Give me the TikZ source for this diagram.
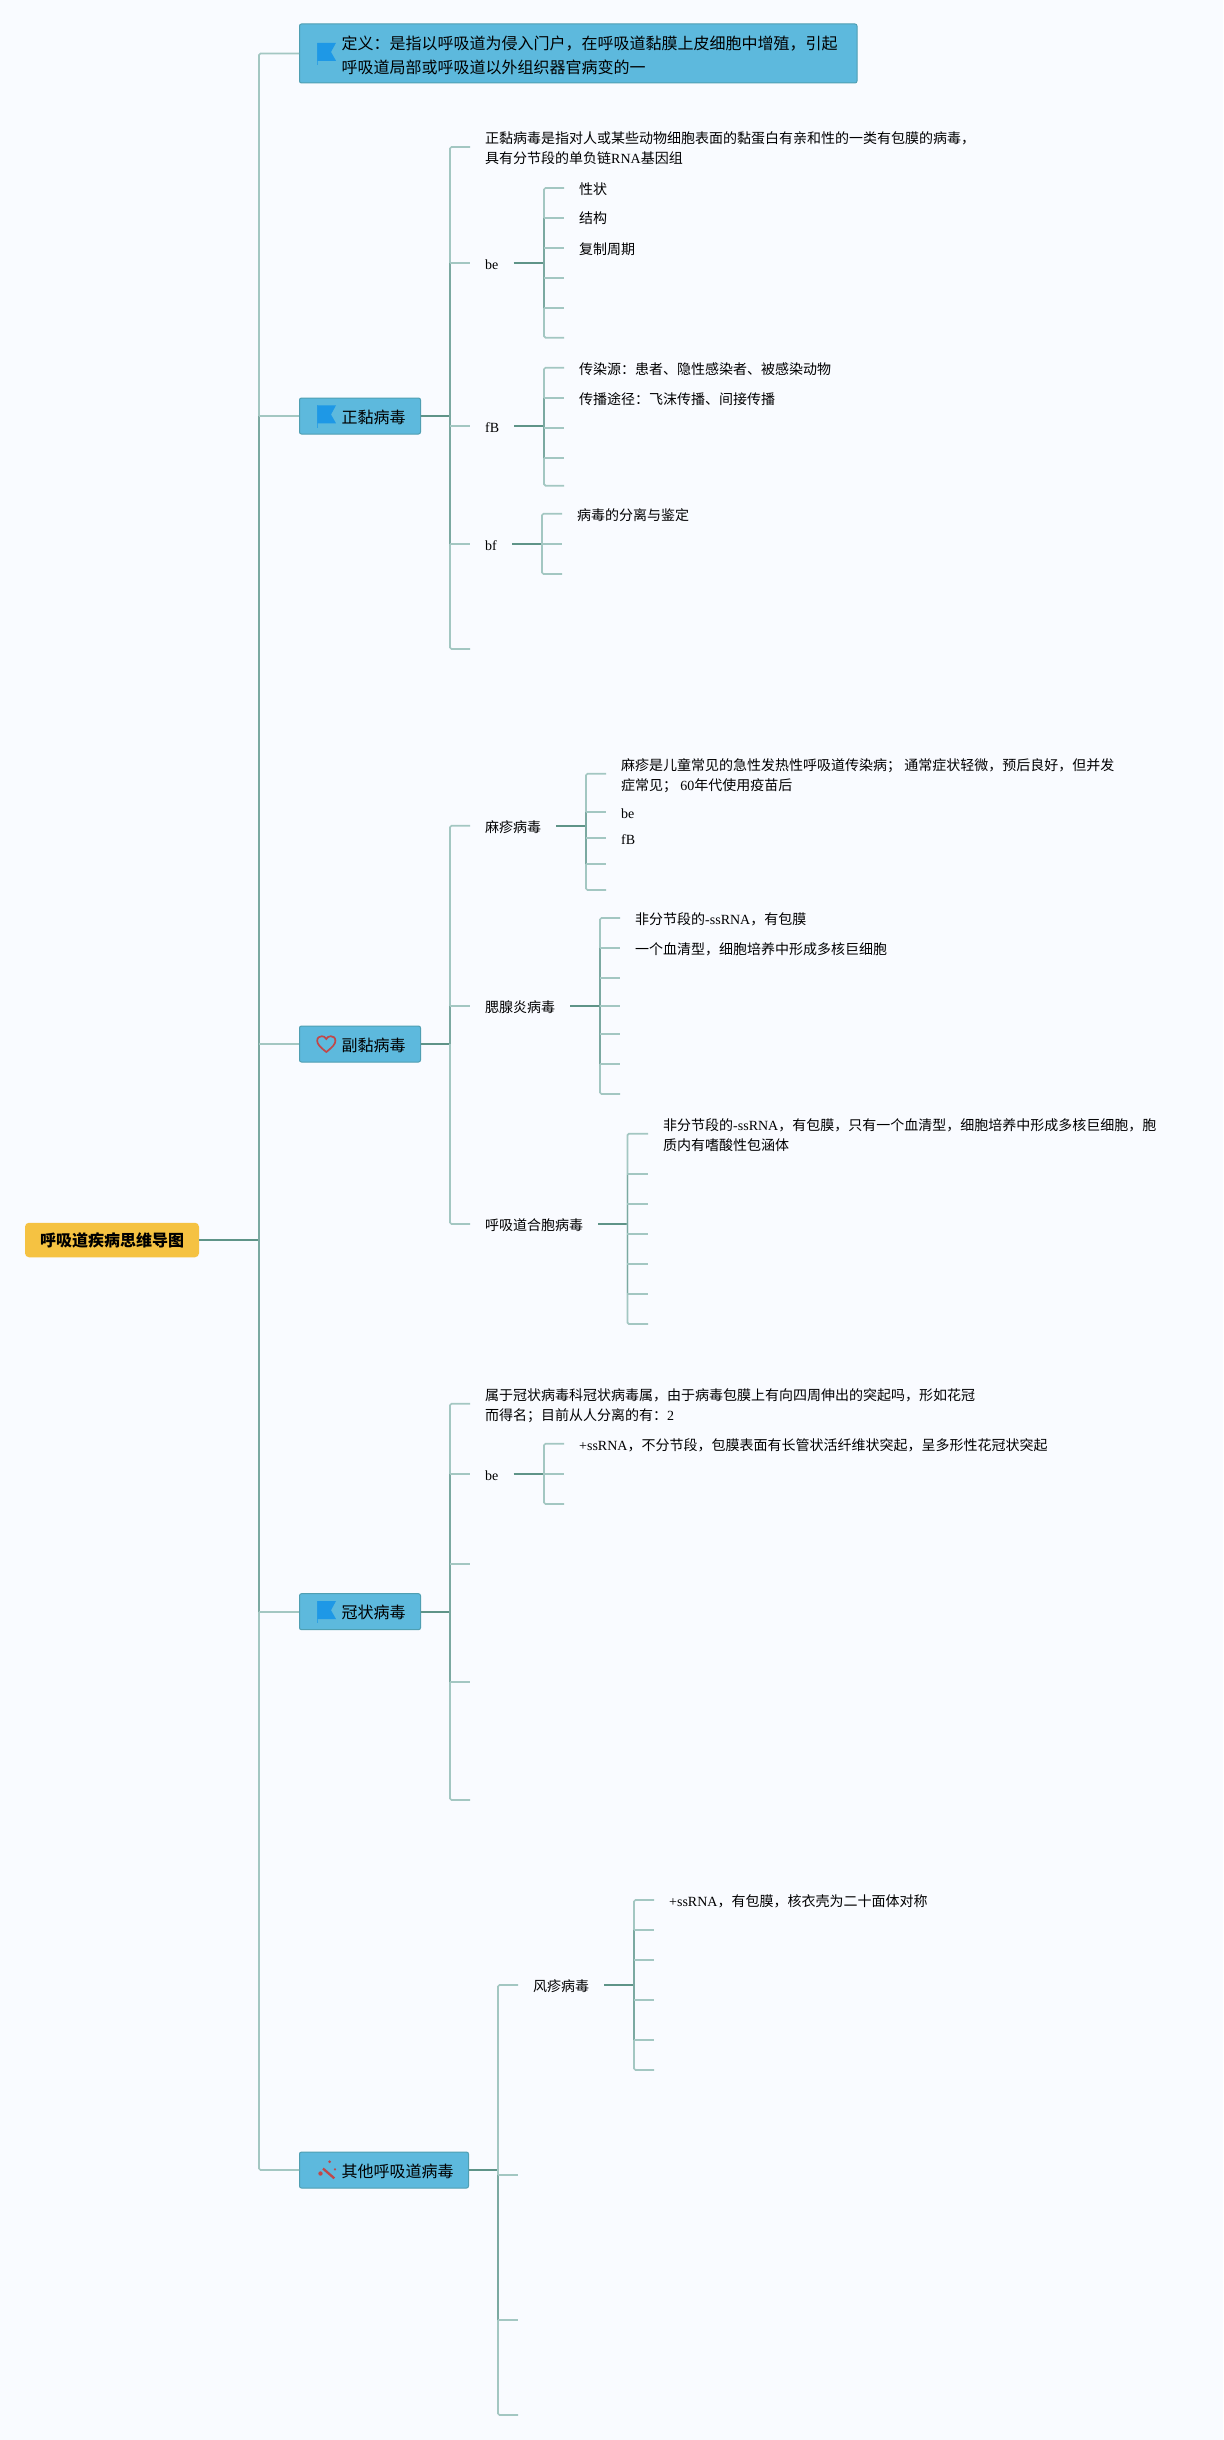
\documentclass[tikz,border=0pt]{standalone}
\usepackage{fontspec}
\setmainfont{Noto Sans CJK SC}
\newfontfamily\latinfont{Liberation Serif}
\usepackage{xcolor}
\usetikzlibrary{positioning}
\definecolor{pagebg}{HTML}{F9FBFF}
\definecolor{topicfill}{HTML}{5DB9DD}
\definecolor{topicedge}{HTML}{4F9FB2}
\definecolor{rootfill}{HTML}{F5C242}
\definecolor{twigcol}{HTML}{A3C7C2}
\definecolor{spinecol}{HTML}{7BA9A1}
\definecolor{stemcol}{HTML}{5F9488}
\definecolor{flagcol}{HTML}{1E98E6}
\definecolor{redcol}{HTML}{C0484A}
\newcommand{\lat}[1]{{\latinfont #1}}
\newcommand{\leafstrut}{\rule[-3.7pt]{0pt}{20pt}}
\newcommand{\leaftallstrut}{\rule[-3.7pt]{0pt}{40.7pt}}
\newcommand{\topicstrut}{\rule[-4pt]{0pt}{22pt}}
\newcommand{\flagicon}[1]{%
  \begin{scope}[shift={(#1.west)}]
    \fill[flagcol!70!topicfill] (18.3,-10.7) rectangle (19.3,11.7);
    \fill[flagcol] (18.3,-10.7) -- (37,-10.7) -- (32,-1.5) -- (37,7.3) -- (18.3,7.3) -- cycle;
  \end{scope}}

\begin{document}
\begin{tikzpicture}[x=1pt, y=-1pt,
    rootbox/.style={fill=rootfill, rounded corners=4pt, inner sep=0pt, minimum width=174pt, minimum height=34.5pt, font=\fontsize{16}{24}\selectfont\bfseries},
    topic/.style={draw=topicedge, fill=topicfill, rounded corners=2pt, anchor=west, inner sep=0pt, line width=1pt, minimum height=36pt},
    topictext/.style={inner sep=0pt, align=left, font=\fontsize{16}{24}\selectfont, execute at begin node=\topicstrut, execute at end node=\topicstrut},
    leaf/.style={anchor=west, inner xsep=15pt, inner ysep=0pt, align=left, font=\fontsize{14}{20}\selectfont, execute at begin node=\leafstrut, execute at end node=\leafstrut},
    leaftwo/.style={leaf, execute at begin node=\leaftallstrut},
    twig/.style={draw=twigcol, line width=1.7pt, rounded corners=1.5pt},
    spine/.style={draw=spinecol, line width=1.7pt},
    stem/.style={draw=stemcol, line width=2pt}]

    \fill[pagebg] (0,0) rectangle (1223,2440);

    % Root and the main trunk
    \node[rootbox] (root) at (112,1240) {呼吸道疾病思维导图};
    \coordinate (rootJ) at (259,1240);

    % Five topics
    \node[topic, minimum width=557.5pt, minimum height=59pt] (def) at (299,53.5) {};
    \node[topictext, right=42.5pt of def.west, yshift=-3.5pt] (deftxt) {定义：是指以呼吸道为侵入门户，在呼吸道黏膜上皮细胞中增殖，引起\\呼吸道局部或呼吸道以外组织器官病变的一};
    \node[topic, minimum width=121pt] (zheng) at (299,416) {};
    \node[topictext, right=42.5pt of zheng.west] (zhengtxt) {正黏病毒};
    \node[topic, minimum width=121pt] (fu) at (299,1044) {};
    \node[topictext, right=42.5pt of fu.west] (futxt) {副黏病毒};
    \node[topic, minimum width=121pt] (guan) at (299,1611.7) {};
    \node[topictext, right=42.5pt of guan.west] (guantxt) {冠状病毒};
    \node[topic, minimum width=169pt] (qita) at (299,2170) {};
    \node[topictext, right=42.5pt of qita.west] (qitatxt) {其他呼吸道病毒};

    % Icons
    \flagicon{def}
    \flagicon{zheng}
    \flagicon{guan}
    \begin{scope}[shift={(fu.west)}]
        \draw[redcol, line width=1.7pt] (27.3,8) .. controls (21,3) and (18.2,0) .. (18.2,-3.2)
            .. controls (18.2,-6.5) and (20.5,-7.8) .. (22.8,-7.8) .. controls (24.8,-7.8) and (26.4,-6.8) .. (27.3,-5)
            .. controls (28.2,-6.8) and (29.8,-7.8) .. (31.8,-7.8) .. controls (34.1,-7.8) and (36.4,-6.5) .. (36.4,-3.2)
            .. controls (36.4,0) and (33.6,3) .. (27.3,8) -- cycle;
    \end{scope}
    \begin{scope}[shift={(qita.west)}]
        \draw[redcol, line width=2.3pt] (24,-1.5) -- (35.3,8.3);
        \fill[redcol] (30.7,-8.3) circle (1.5) (21.5,3.5) circle (2.2) (36,-0.7) circle (1.2);
    \end{scope}

    % Main trunk connectors
    \draw[stem] (root) -- (rootJ);
    \draw[twig] (def) -- (rootJ |- def) -- (rootJ |- qita) -- (qita);
    \draw[spine] (rootJ |- zheng) -- (rootJ |- guan);
    \draw[twig] (rootJ |- zheng) -- (zheng) (rootJ |- fu) -- (fu) (rootJ |- guan) -- (guan);

    % Topic: zheng
    \coordinate (zhengJ) at (450,416);
    \node[leaftwo] (zdesc) at (470,147) {正黏病毒是指对人或某些动物细胞表面的黏蛋白有亲和性的一类有包膜的病毒，\\具有分节段的单负链\lat{RNA}基因组};
    \node[leaf] (zbe) at (470,263) {\lat{be}};
    \node[leaf] (zfb) at (470,426) {\lat{fB}};
    \node[leaf] (zbf) at (470,543.7) {\lat{bf}};
    \coordinate (zend) at (470,649);
    \draw[stem] (zheng) -- (zhengJ);
    \draw[twig] (zdesc) -- (zhengJ |- zdesc) -- (zhengJ |- zend) -- (zend);
    \draw[spine] (zhengJ |- zbe) -- (zhengJ |- zbf);
    \draw[twig] (zhengJ |- zbe) -- (zbe) (zhengJ |- zfb) -- (zfb) (zhengJ |- zbf) -- (zbf);

    % zheng / be
    \coordinate (zbeJ) at (544,263);
    \node[leaf] (zbe1) at (564,188) {性状};
    \node[leaf] (zbe2) at (564,217.7) {结构};
    \node[leaf] (zbe3) at (564,248) {复制周期};
    \coordinate (zbe4) at (564,277.7);
    \coordinate (zbe5) at (564,307.7);
    \coordinate (zbe6) at (564,337.7);
    \draw[stem] (zbe) -- (zbeJ);
    \draw[twig] (zbe1) -- (zbeJ |- zbe1) -- (zbeJ |- zbe6) -- (zbe6);
    \draw[spine] (zbeJ |- zbe2) -- (zbeJ |- zbe5);
    \draw[twig] (zbeJ |- zbe2) -- (zbe2) (zbeJ |- zbe3) -- (zbe3) (zbeJ |- zbe4) -- (zbe4) (zbeJ |- zbe5) -- (zbe5);

    % zheng / fB
    \coordinate (zfbJ) at (544,426);
    \node[leaf] (zfb1) at (564,367.7) {传染源：患者、隐性感染者、被感染动物};
    \node[leaf] (zfb2) at (564,397.7) {传播途径：飞沫传播、间接传播};
    \coordinate (zfb3) at (564,427.7);
    \coordinate (zfb4) at (564,457.7);
    \coordinate (zfb5) at (564,485.7);
    \draw[stem] (zfb) -- (zfbJ);
    \draw[twig] (zfb1) -- (zfbJ |- zfb1) -- (zfbJ |- zfb5) -- (zfb5);
    \draw[spine] (zfbJ |- zfb2) -- (zfbJ |- zfb4);
    \draw[twig] (zfbJ |- zfb2) -- (zfb2) (zfbJ |- zfb3) -- (zfb3) (zfbJ |- zfb4) -- (zfb4);

    % zheng / bf
    \coordinate (zbfJ) at (542,543.7);
    \node[leaf] (zbf1) at (562,513.7) {病毒的分离与鉴定};
    \coordinate (zbf2) at (562,543.7);
    \coordinate (zbf3) at (562,574);
    \draw[stem] (zbf) -- (zbfJ);
    \draw[twig] (zbf1) -- (zbfJ |- zbf1) -- (zbfJ |- zbf3) -- (zbf3);
    \draw[twig] (zbfJ) -- (zbf2);

    % Topic: fu
    \coordinate (fuJ) at (450,1044);
    \node[leaf] (mazhen) at (470,825.7) {麻疹病毒};
    \node[leaf] (sai) at (470,1006) {腮腺炎病毒};
    \node[leaf] (huxi) at (470,1224) {呼吸道合胞病毒};
    \draw[stem] (fu) -- (fuJ);
    \draw[twig] (mazhen) -- (fuJ |- mazhen) -- (fuJ |- huxi) -- (huxi);
    \draw[spine] (fuJ |- sai) -- (fuJ);
    \draw[twig] (fuJ |- sai) -- (sai);

    % fu / mazhen
    \coordinate (mazhenJ) at (586,825.7);
    \node[leaftwo] (ma1) at (606,773.7) {麻疹是儿童常见的急性发热性呼吸道传染病； 通常症状轻微，预后良好，但并发\\症常见； \lat{60}年代使用疫苗后};
    \node[leaf] (ma2) at (606,811.7) {\lat{be}};
    \node[leaf] (ma3) at (606,838) {\lat{fB}};
    \coordinate (ma4) at (606,864);
    \coordinate (ma5) at (606,890);
    \draw[stem] (mazhen) -- (mazhenJ);
    \draw[twig] (ma1) -- (mazhenJ |- ma1) -- (mazhenJ |- ma5) -- (ma5);
    \draw[spine] (mazhenJ |- ma2) -- (mazhenJ |- ma4);
    \draw[twig] (mazhenJ |- ma2) -- (ma2) (mazhenJ |- ma3) -- (ma3) (mazhenJ |- ma4) -- (ma4);

    % fu / sai
    \coordinate (saiJ) at (600,1006);
    \node[leaf] (sai1) at (620,918) {非分节段的\lat{-ssRNA}，有包膜};
    \node[leaf] (sai2) at (620,948) {一个血清型，细胞培养中形成多核巨细胞};
    \coordinate (sai3) at (620,978);
    \coordinate (sai4) at (620,1006);
    \coordinate (sai5) at (620,1034);
    \coordinate (sai6) at (620,1064);
    \coordinate (sai7) at (620,1094);
    \draw[stem] (sai) -- (saiJ);
    \draw[twig] (sai1) -- (saiJ |- sai1) -- (saiJ |- sai7) -- (sai7);
    \draw[spine] (saiJ |- sai2) -- (saiJ |- sai6);
    \draw[twig] (saiJ |- sai2) -- (sai2) (saiJ |- sai3) -- (sai3) (saiJ |- sai4) -- (sai4) (saiJ |- sai5) -- (sai5) (saiJ |- sai6) -- (sai6);

    % fu / huxi
    \coordinate (huxiJ) at (627.4,1224);
    \node[leaftwo] (hu1) at (648,1133.7) {非分节段的\lat{-ssRNA}，有包膜，只有一个血清型，细胞培养中形成多核巨细胞，胞\\质内有嗜酸性包涵体};
    \coordinate (hu2) at (648,1174);
    \coordinate (hu3) at (648,1204);
    \coordinate (hu4) at (648,1234);
    \coordinate (hu5) at (648,1264);
    \coordinate (hu6) at (648,1294);
    \coordinate (hu7) at (648,1324);
    \draw[stem] (huxi) -- (huxiJ);
    \draw[twig] (hu1) -- (huxiJ |- hu1) -- (huxiJ |- hu7) -- (hu7);
    \draw[spine] (huxiJ |- hu2) -- (huxiJ |- hu6);
    \draw[twig] (huxiJ |- hu2) -- (hu2) (huxiJ |- hu3) -- (hu3) (huxiJ |- hu4) -- (hu4) (huxiJ |- hu5) -- (hu5) (huxiJ |- hu6) -- (hu6);

    % Topic: guan
    \coordinate (guanJ) at (450,1611.7);
    \node[leaftwo] (gdesc) at (470,1403.7) {属于冠状病毒科冠状病毒属，由于病毒包膜上有向四周伸出的突起吗，形如花冠\\而得名；目前从人分离的有：\lat{2}};
    \node[leaf] (gbe) at (470,1473.7) {\lat{be}};
    \coordinate (g3) at (470,1564);
    \coordinate (g4) at (470,1682);
    \coordinate (g5) at (470,1800);
    \draw[stem] (guan) -- (guanJ);
    \draw[twig] (gdesc) -- (guanJ |- gdesc) -- (guanJ |- g5) -- (g5);
    \draw[spine] (guanJ |- gbe) -- (guanJ |- g4);
    \draw[twig] (guanJ |- gbe) -- (gbe) (guanJ |- g3) -- (g3) (guanJ |- g4) -- (g4);

    % guan / be
    \coordinate (gbeJ) at (544,1473.7);
    \node[leaf] (gbe1) at (564,1443.7) {\lat{+ssRNA}，不分节段，包膜表面有长管状活纤维状突起，呈多形性花冠状突起};
    \coordinate (gbe2) at (564,1473.7);
    \coordinate (gbe3) at (564,1504);
    \draw[stem] (gbe) -- (gbeJ);
    \draw[twig] (gbe1) -- (gbeJ |- gbe1) -- (gbeJ |- gbe3) -- (gbe3);
    \draw[twig] (gbeJ) -- (gbe2);

    % Topic: qita
    \coordinate (qitaJ) at (498,2170);
    \node[leaf] (feng) at (518,1985) {风疹病毒};
    \coordinate (q2) at (518,2175);
    \coordinate (q3) at (518,2320);
    \coordinate (q4) at (518,2415);
    \draw[stem] (qita) -- (qitaJ);
    \draw[twig] (feng) -- (qitaJ |- feng) -- (qitaJ |- q4) -- (q4);
    \draw[spine] (qitaJ |- q2) -- (qitaJ |- q3);
    \draw[twig] (qitaJ |- q2) -- (q2) (qitaJ |- q3) -- (q3);

    % qita / feng
    \coordinate (fengJ) at (634,1985);
    \node[leaf] (fe1) at (654,1900) {\lat{+ssRNA}，有包膜，核衣壳为二十面体对称};
    \coordinate (fe2) at (654,1930);
    \coordinate (fe3) at (654,1960);
    \coordinate (fe4) at (654,2000);
    \coordinate (fe5) at (654,2040);
    \coordinate (fe6) at (654,2070);
    \draw[stem] (feng) -- (fengJ);
    \draw[twig] (fe1) -- (fengJ |- fe1) -- (fengJ |- fe6) -- (fe6);
    \draw[spine] (fengJ |- fe2) -- (fengJ |- fe5);
    \draw[twig] (fengJ |- fe2) -- (fe2) (fengJ |- fe3) -- (fe3) (fengJ |- fe4) -- (fe4) (fengJ |- fe5) -- (fe5);

\end{tikzpicture}
\end{document}
